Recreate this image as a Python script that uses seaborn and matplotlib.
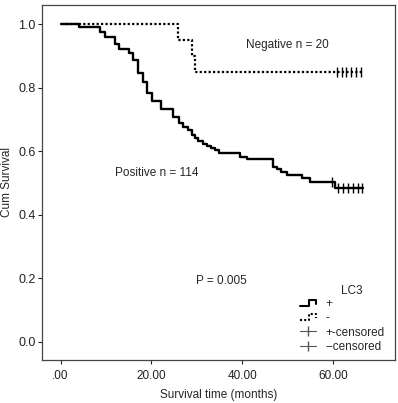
import matplotlib
matplotlib.use("Agg")
import matplotlib.pyplot as plt
import seaborn as sns
import pandas as pd
from matplotlib.lines import Line2D
from matplotlib.legend_handler import HandlerBase

# Kaplan-Meier steps
pos_times = [0, 4.0, 8.7, 9.8, 12.0, 12.9, 15.1, 15.9, 17.0, 18.1, 19.0, 20.1,
             22.1, 24.8, 26.1, 27.0, 28.1, 29.0, 29.6, 30.3, 31.4, 32.2, 33.1,
             34.0, 34.9, 39.5, 41.0, 46.9, 47.6, 48.5, 49.8, 53.1, 55.0, 60.5, 66.7]
pos_surv = [1.0, 0.991, 0.974, 0.958, 0.936, 0.921, 0.909, 0.887, 0.846, 0.818,
            0.783, 0.758, 0.733, 0.708, 0.688, 0.677, 0.667, 0.650, 0.641, 0.632,
            0.623, 0.617, 0.611, 0.604, 0.593, 0.583, 0.575, 0.551, 0.543, 0.536,
            0.525, 0.515, 0.502, 0.484, 0.484]
pos_cens_t = [59.8, 61.2, 62.3, 63.4, 64.5, 65.6, 66.4]
pos_cens_s = [0.502, 0.484, 0.484, 0.484, 0.484, 0.484, 0.484]

neg_times = [0, 25.9, 28.9, 29.6, 66.3]
neg_surv = [1.0, 0.95, 0.90, 0.85, 0.85]
neg_cens_t = [61.0, 62.0, 63.0, 64.1, 65.2, 66.1]
neg_cens_s = [0.85] * 6

x_ticks = [0, 20, 40, 60]
x_labels = [".00", "20.00", "40.00", "60.00"]
y_ticks = [0.0, 0.2, 0.4, 0.6, 0.8, 1.0]

pos = pd.DataFrame({"t": pos_times, "s": pos_surv})
neg = pd.DataFrame({"t": neg_times, "s": neg_surv})
cens = pd.DataFrame({"t": pos_cens_t + neg_cens_t, "s": pos_cens_s + neg_cens_s})


class StepHandler(HandlerBase):
    # small step-shaped legend icon like the SPSS one
    def __init__(self, ls):
        super().__init__()
        self.ls = ls

    def create_artists(self, legend, orig_handle, xdescent, ydescent,
                       width, height, fontsize, trans):
        w, h = width, height
        xs = [-xdescent, 0.55 * w, 0.55 * w, w, w]
        ys = [0.15 * h, 0.15 * h, 0.85 * h, 0.85 * h, 0.4 * h]
        ln = Line2D(xs, ys, color="black", lw=1.5, ls=self.ls, transform=trans)
        return [ln]


sns.set_style("white")
plt.rcParams["font.family"] = ["Liberation Sans", "DejaVu Sans"]

fig = plt.figure(figsize=(3.98, 4.03), dpi=100)
ax = fig.add_axes([0.1055, 0.1067, 0.887, 0.881])

sns.lineplot(data=pos, x="t", y="s", drawstyle="steps-post", color="black",
             lw=1.7, ax=ax, sort=False)
sns.lineplot(data=neg, x="t", y="s", drawstyle="steps-post", color="black",
             lw=1.6, ls=(0, (1, 1)), ax=ax, sort=False)
sns.scatterplot(data=cens, x="t", y="s", marker="|", s=45, linewidth=1.0,
                color="black", ax=ax)

ax.set_xlim(-4.1, 73.7)
ax.set_ylim(-0.057, 1.06)
ax.set_xticks(x_ticks)
ax.set_xticklabels(x_labels)
ax.set_yticks(y_ticks)
ax.set_yticklabels([f"{v:.1f}" for v in y_ticks])
ax.tick_params(direction="out", length=3, width=0.8, colors="#222222",
               left=True, bottom=True)
ax.tick_params(axis="x", pad=4.5, labelsize=8.5)
ax.tick_params(axis="y", pad=1.5, labelsize=9)
for sp in ax.spines.values():
    sp.set_color("#444444")
    sp.set_linewidth(0.9)

ax.set_xlabel("Survival time (months)", fontsize=8.5, labelpad=5)
ax.set_ylabel("Cum Survival", fontsize=8.5)
ax.yaxis.set_label_coords(-0.082, 0.5)

ax.text(50.0, 0.935, "Negative n = 20", fontsize=8.5, ha="center", va="center")
ax.text(21.3, 0.53, "Positive n = 114", fontsize=8.5, ha="center", va="center")
ax.text(35.5, 0.19, "P = 0.005", fontsize=8.5, ha="center", va="center")
ax.text(0.878, 0.194, "LC3", fontsize=8.5, ha="center", va="center",
        transform=ax.transAxes)

solid = Line2D([], [], color="black")
dotted = Line2D([], [], color="black")
c1 = Line2D([], [], color="#555555", lw=0.8, marker="|", markersize=7)
c2 = Line2D([], [], color="#555555", lw=0.8, marker="|", markersize=7)
leg = ax.legend([solid, dotted, c1, c2], ["+", "-", "+-censored", "--censored"],
                loc="lower right", bbox_to_anchor=(1.0, -0.01),
                frameon=False, fontsize=8.5,
                handlelength=1.3, handletextpad=0.8, labelspacing=0.2,
                handler_map={solid: StepHandler("-"), dotted: StepHandler((0, (1, 1)))})

fig.savefig("out.png", dpi=100)
